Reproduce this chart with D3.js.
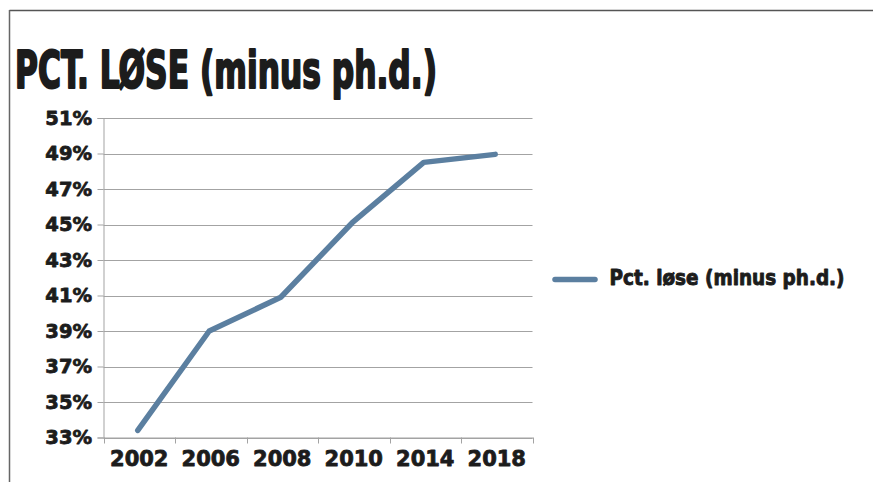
<!DOCTYPE html>
<html>
<head>
<meta charset="utf-8">
<script src="https://cdn.jsdelivr.net/npm/d3@7"></script>
<style>
  html, body { margin: 0; padding: 0; background: #fff; }
  svg { display: block; }
</style>
</head>
<body>
<svg id="chart" width="873" height="482"></svg>
<script>
const titleText = "PCT. LØSE (minus ph.d.)";
const seriesName = "Pct. løse (minus ph.d.)";
const categories = ["2002", "2006", "2008", "2010", "2014", "2018"];
const values = [33.4, 39.0, 40.9, 45.1, 48.5, 48.95];
const yTicks = [33, 35, 37, 39, 41, 43, 45, 47, 49, 51];

const svg = d3.select("#chart");
const W = 873, H = 482;
const m = { left: 103.5, right: 340.5, top: 118, bottom: 44.5 };
const plotW = W - m.left - m.right;
const plotH = H - m.top - m.bottom;
const lineColor = "#5b7fa0";
const gridColor = "#a3a3a3";
const textColor = "#1c1c1c";
const fontHeavy = "'DejaVu Sans', 'Liberation Sans', sans-serif";
const fontNarrow = "'Liberation Sans Narrow', 'DejaVu Sans Condensed', 'Liberation Sans', sans-serif";

// frame
svg.append("line").attr("x1", 9.5).attr("x2", W).attr("y1", 10.5).attr("y2", 10.5)
  .attr("stroke", "#555").attr("stroke-width", 1.5);
svg.append("line").attr("x1", 9.5).attr("x2", 9.5).attr("y1", 10).attr("y2", H)
  .attr("stroke", "#666").attr("stroke-width", 1.5);

// title
svg.append("text")
  .attr("x", 15).attr("y", 88)
  .attr("font-family", fontNarrow)
  .attr("font-weight", "bold")
  .attr("font-size", 52)
  .attr("fill", textColor)
  .attr("stroke", textColor).attr("stroke-width", 2.2).attr("stroke-linejoin", "round")
  .attr("textLength", 422)
  .attr("lengthAdjust", "spacingAndGlyphs")
  .text(titleText);

const x = d3.scaleBand().domain(categories).range([m.left, m.left + plotW]);
const y = d3.scaleLinear().domain([33, 51]).range([m.top + plotH, m.top]);

const g = svg.append("g");

// gridlines
g.selectAll("line.grid").data(yTicks).join("line")
  .attr("class", "grid")
  .attr("x1", m.left).attr("x2", m.left + plotW)
  .attr("y1", d => Math.round(y(d)) + 0.5).attr("y2", d => Math.round(y(d)) + 0.5)
  .attr("stroke", gridColor).attr("stroke-width", 1);

// y axis
const yAxis = d3.axisLeft(y).tickValues(yTicks).tickSize(6).tickPadding(6)
  .tickFormat(d => d + "%");
const yg = g.append("g").attr("transform", `translate(${m.left},0)`).call(yAxis);
yg.select(".domain").attr("stroke", gridColor);
yg.selectAll(".tick line").attr("stroke", gridColor);
yg.selectAll(".tick text")
  .attr("font-family", fontHeavy).attr("font-weight", "bold")
  .attr("font-size", 19.5).attr("fill", textColor)
  .attr("stroke", textColor).attr("stroke-width", 0.8).attr("stroke-linejoin", "round")
  .attr("dx", 0.5);

// x axis
const xAxis = d3.axisBottom(x).tickSize(0).tickPadding(14);
const xg = g.append("g").attr("transform", `translate(0,${m.top + plotH})`).call(xAxis);
xg.select(".domain").attr("stroke", gridColor);
xg.selectAll(".tick text")
  .attr("font-family", fontHeavy).attr("font-weight", "bold")
  .attr("font-size", 21).attr("fill", textColor)
  .attr("stroke", textColor).attr("stroke-width", 0.8).attr("stroke-linejoin", "round")
  .attr("dy", "0.71em");
// boundary ticks
const bounds = categories.map(c => x(c)).concat([m.left + plotW]);
g.selectAll("line.bt").data(bounds).join("line")
  .attr("class", "bt")
  .attr("x1", d => Math.round(d) + 0.5).attr("x2", d => Math.round(d) + 0.5)
  .attr("y1", m.top + plotH).attr("y2", m.top + plotH + 6)
  .attr("stroke", gridColor);

// line
const line = d3.line()
  .x((d, i) => x(categories[i]) + x.bandwidth() / 2 - 1.5)
  .y(d => y(d));
g.append("path").datum(values)
  .attr("d", line)
  .attr("fill", "none")
  .attr("stroke", lineColor)
  .attr("stroke-width", 5.5)
  .attr("stroke-linecap", "round")
  .attr("stroke-linejoin", "round");

// legend
const lg = svg.append("g");
lg.append("line").attr("x1", 555).attr("x2", 595).attr("y1", 279.5).attr("y2", 279.5)
  .attr("stroke", lineColor).attr("stroke-width", 5.5).attr("stroke-linecap", "round");
lg.append("text").attr("x", 609.5).attr("y", 285)
  .attr("font-family", fontNarrow).attr("font-weight", "bold")
  .attr("font-size", 22).attr("fill", textColor)
  .attr("stroke", textColor).attr("stroke-width", 0.9).attr("stroke-linejoin", "round")
  .attr("textLength", 235).attr("lengthAdjust", "spacingAndGlyphs")
  .text(seriesName);
</script>
</body>
</html>
